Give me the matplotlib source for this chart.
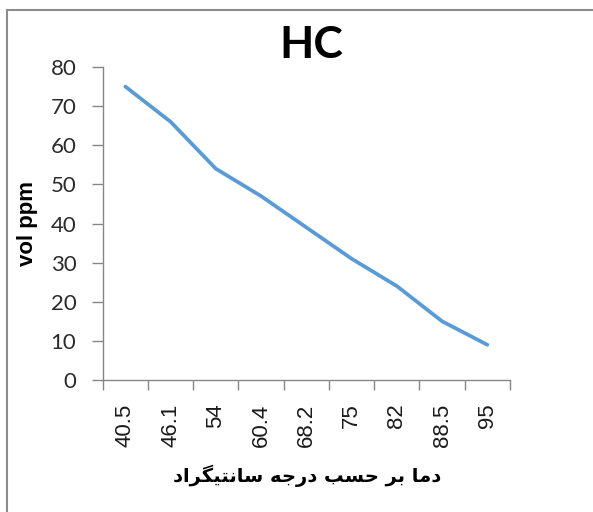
import matplotlib
matplotlib.use("Agg")
import matplotlib.pyplot as plt
from matplotlib.lines import Line2D

# Temperature categories (deg C) and HC concentration (vol ppm)
temperatures = ["40.5", "46.1", "54", "60.4", "68.2", "75", "82", "88.5", "95"]
hc_ppm = [75, 66, 54, 47, 39, 31, 24, 15, 9]
y_ticks = [0, 10, 20, 30, 40, 50, 60, 70, 80]

title_text = "HC"
y_label_text = "vol ppm"
x_label_text = "دما بر حسب درجه سانتیگراد"

# Contextual forms (isolated, final, initial, medial) for the letters used
_FORMS = {
    "\u062F": ("\uFEA9", "\uFEAA", None, None),          # dal
    "\u0645": ("\uFEE1", "\uFEE2", "\uFEE3", "\uFEE4"),  # meem
    "\u0627": ("\uFE8D", "\uFE8E", None, None),          # alef
    "\u0628": ("\uFE8F", "\uFE90", "\uFE91", "\uFE92"),  # beh
    "\u0631": ("\uFEAD", "\uFEAE", None, None),          # reh
    "\u062D": ("\uFEA1", "\uFEA2", "\uFEA3", "\uFEA4"),  # hah
    "\u0633": ("\uFEB1", "\uFEB2", "\uFEB3", "\uFEB4"),  # seen
    "\u062C": ("\uFE9D", "\uFE9E", "\uFE9F", "\uFEA0"),  # jeem
    "\u0647": ("\uFEE9", "\uFEEA", "\uFEEB", "\uFEEC"),  # heh
    "\u0646": ("\uFEE5", "\uFEE6", "\uFEE7", "\uFEE8"),  # noon
    "\u062A": ("\uFE95", "\uFE96", "\uFE97", "\uFE98"),  # teh
    "\u06CC": ("\uFBFC", "\uFBFD", "\uFBFE", "\uFBFF"),  # farsi yeh
    "\u06AF": ("\uFB92", "\uFB93", "\uFB94", "\uFB95"),  # gaf
}


def shape_rtl(text):
    """Join Persian letters into contextual forms and order them for LTR layout."""
    def dual(ch):
        return ch in _FORMS and _FORMS[ch][2] is not None

    out = []
    for i, ch in enumerate(text):
        if ch not in _FORMS:
            out.append(ch)
            continue
        prev_c = i > 0 and dual(text[i - 1])
        next_c = dual(ch) and i + 1 < len(text) and text[i + 1] in _FORMS
        iso, fin, ini, med = _FORMS[ch]
        if prev_c and next_c:
            out.append(med)
        elif next_c:
            out.append(ini)
        elif prev_c:
            out.append(fin)
        else:
            out.append(iso)
    return "".join(reversed(out))


W, H = 593, 512
fig = plt.figure(figsize=(W / 100, H / 100), dpi=100)
fig.patch.set_facecolor("white")

# Outer chart frame (top and left edges visible)
frame_col = "#8c8c8c"
fx, fy = 7 / W, 1 - 10 / H
fig.add_artist(Line2D([fx, 1.0], [fy, fy], transform=fig.transFigure, color=frame_col, lw=1.5))
fig.add_artist(Line2D([fx, fx], [0.0, fy], transform=fig.transFigure, color=frame_col, lw=1.5))

left, right = 102.7 / W, 510 / W
bottom, top = 1 - 380 / H, 1 - 67 / H
ax = fig.add_axes([left, bottom, right - left, top - bottom])

ax.plot(temperatures, hc_ppm, color="#5B9BD5", lw=2.7, solid_capstyle="round",
        solid_joinstyle="round")

n = len(temperatures)
ax.set_xlim(-0.5, n - 0.5)
ax.set_ylim(y_ticks[0], y_ticks[-1])
ax.set_yticks(y_ticks)
ax.set_yticklabels([str(v) for v in y_ticks], fontfamily="Lato", fontsize=16, color="#2b2b2b")

ax.set_xticks(range(n))
ax.set_xticklabels(temperatures, rotation=90, fontfamily="Liberation Sans", fontsize=16,
                   color="#1a1a1a", va="top", ha="center")
ax.set_xticks([i - 0.5 for i in range(n + 1)], minor=True)
ax.tick_params(axis="x", which="major", length=0, pad=17)
ax.tick_params(axis="x", which="minor", length=7, width=1, color="#868686")
ax.tick_params(axis="y", which="major", length=8, width=1, color="#868686", pad=11)

for side in ("top", "right"):
    ax.spines[side].set_visible(False)
for side in ("left", "bottom"):
    ax.spines[side].set_color("#868686")
    ax.spines[side].set_linewidth(1)

fig.text(311.5 / W, 1 - 45 / H, title_text, ha="center", va="center",
         fontfamily="Lato", fontweight="bold", fontsize=32, color="black")
fig.text(28 / W, 1 - 224 / H, y_label_text, ha="center", va="center", rotation=90,
         fontfamily="Liberation Sans", fontweight="bold", fontsize=16, color="black")
fig.text(307 / W, 1 - 476 / H, shape_rtl(x_label_text), ha="center", va="center",
         fontfamily="DejaVu Sans", fontweight="bold", fontsize=14, color="black")

fig.savefig("out.png", dpi=100, facecolor="white")
